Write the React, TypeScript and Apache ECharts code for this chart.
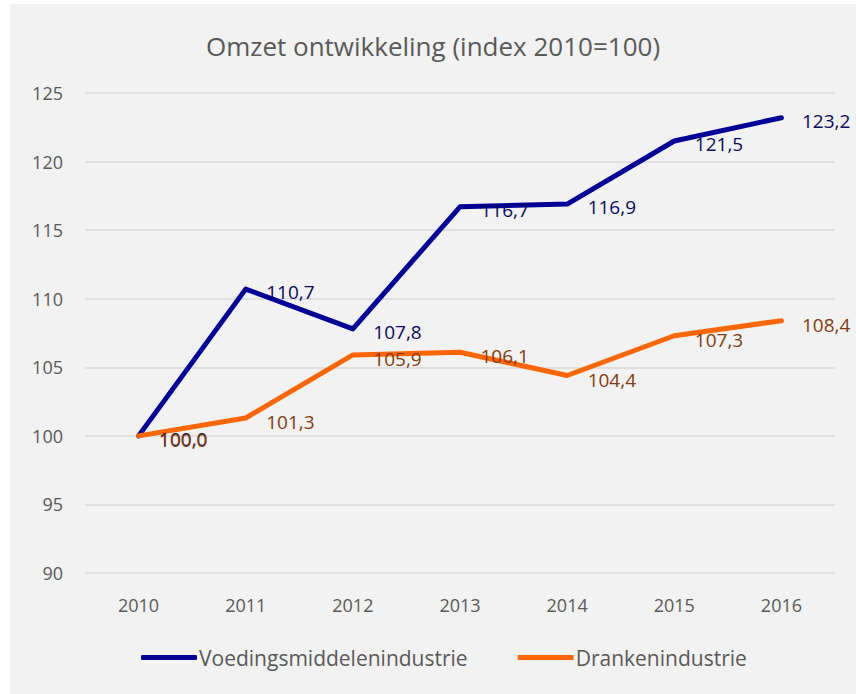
import React, { useEffect, useRef } from "react";
import * as echarts from "echarts";

const categories = ["2010", "2011", "2012", "2013", "2014", "2015", "2016"];
const voeding = [100.0, 110.7, 107.8, 116.7, 116.9, 121.5, 123.2];
const dranken = [100.0, 101.3, 105.9, 106.1, 104.4, 107.3, 108.4];
const seriesNames = ["Voedingsmiddelenindustrie", "Drankenindustrie"];
const titleText = "Omzet ontwikkeling (index 2010=100)";

const FONT = "'Open Sans', sans-serif";

export default function App() {
  const ref = useRef<HTMLDivElement>(null);
  useEffect(() => {
    if (!ref.current) return;
    const chart = echarts.init(ref.current, undefined, { renderer: "svg" });
    const fmt = (p: any) => Number(p.value).toFixed(1).replace(".", ",");
    chart.setOption({
      animation: false,
      backgroundColor: "#f2f2f2",
      textStyle: { fontFamily: FONT },
      title: {
        text: titleText,
        left: "center",
        top: 24,
        textStyle: { fontFamily: FONT, fontSize: 26, fontWeight: "normal", color: "#595959" },
      },
      legend: {
        bottom: 21,
        left: 126,
        itemWidth: 56,
        itemHeight: 5,
        itemGap: 50,
        icon: "roundRect",
        textStyle: { fontFamily: FONT, fontSize: 21, color: "#595959", padding: [0, 0, 0, -3] },
        data: seriesNames,
      },
      grid: { left: 75, right: 21, top: 89, bottom: 121, containLabel: false },
      xAxis: {
        type: "category",
        data: categories,
        boundaryGap: true,
        axisLine: { show: false },
        axisTick: { show: false },
        axisLabel: { color: "#595959", fontSize: 18, fontFamily: FONT, margin: 23 },
      },
      yAxis: {
        type: "value",
        min: 90,
        max: 125,
        interval: 5,
        axisLine: { show: false },
        axisTick: { show: false },
        splitLine: { lineStyle: { color: "#d9d9d9", width: 1.5 } },
        axisLabel: { color: "#595959", fontSize: 18, fontFamily: FONT, margin: 22 },
      },
      series: [
        {
          name: seriesNames[0],
          type: "line",
          data: voeding,
          symbol: "circle",
          symbolSize: 1,
          showSymbol: true,
          lineStyle: { color: "#000099", width: 5, cap: "round", join: "round" },
          itemStyle: { color: "#000099" },
          label: {
            show: true,
            position: "right",
            distance: 20,
            offset: [0, 3],
            formatter: fmt,
            color: "#0a0a5c",
            fontSize: 19,
            fontFamily: FONT,
          },
        },
        {
          name: seriesNames[1],
          type: "line",
          data: dranken,
          symbol: "circle",
          symbolSize: 1,
          showSymbol: true,
          lineStyle: { color: "#ff6600", width: 5, cap: "round", join: "round" },
          itemStyle: { color: "#ff6600" },
          label: {
            show: true,
            position: "right",
            distance: 20,
            offset: [0, 4],
            formatter: fmt,
            color: "#843c0c",
            fontSize: 19,
            fontFamily: FONT,
          },
        },
      ],
    });
    return () => chart.dispose();
  }, []);
  return (
    <div style={{ position: "fixed", left: 0, top: 0, width: 856, height: 694, background: "#ffffff" }}>
      <div ref={ref} style={{ position: "absolute", left: 10, top: 4, width: 846, height: 690 }} />
    </div>
  );
}
